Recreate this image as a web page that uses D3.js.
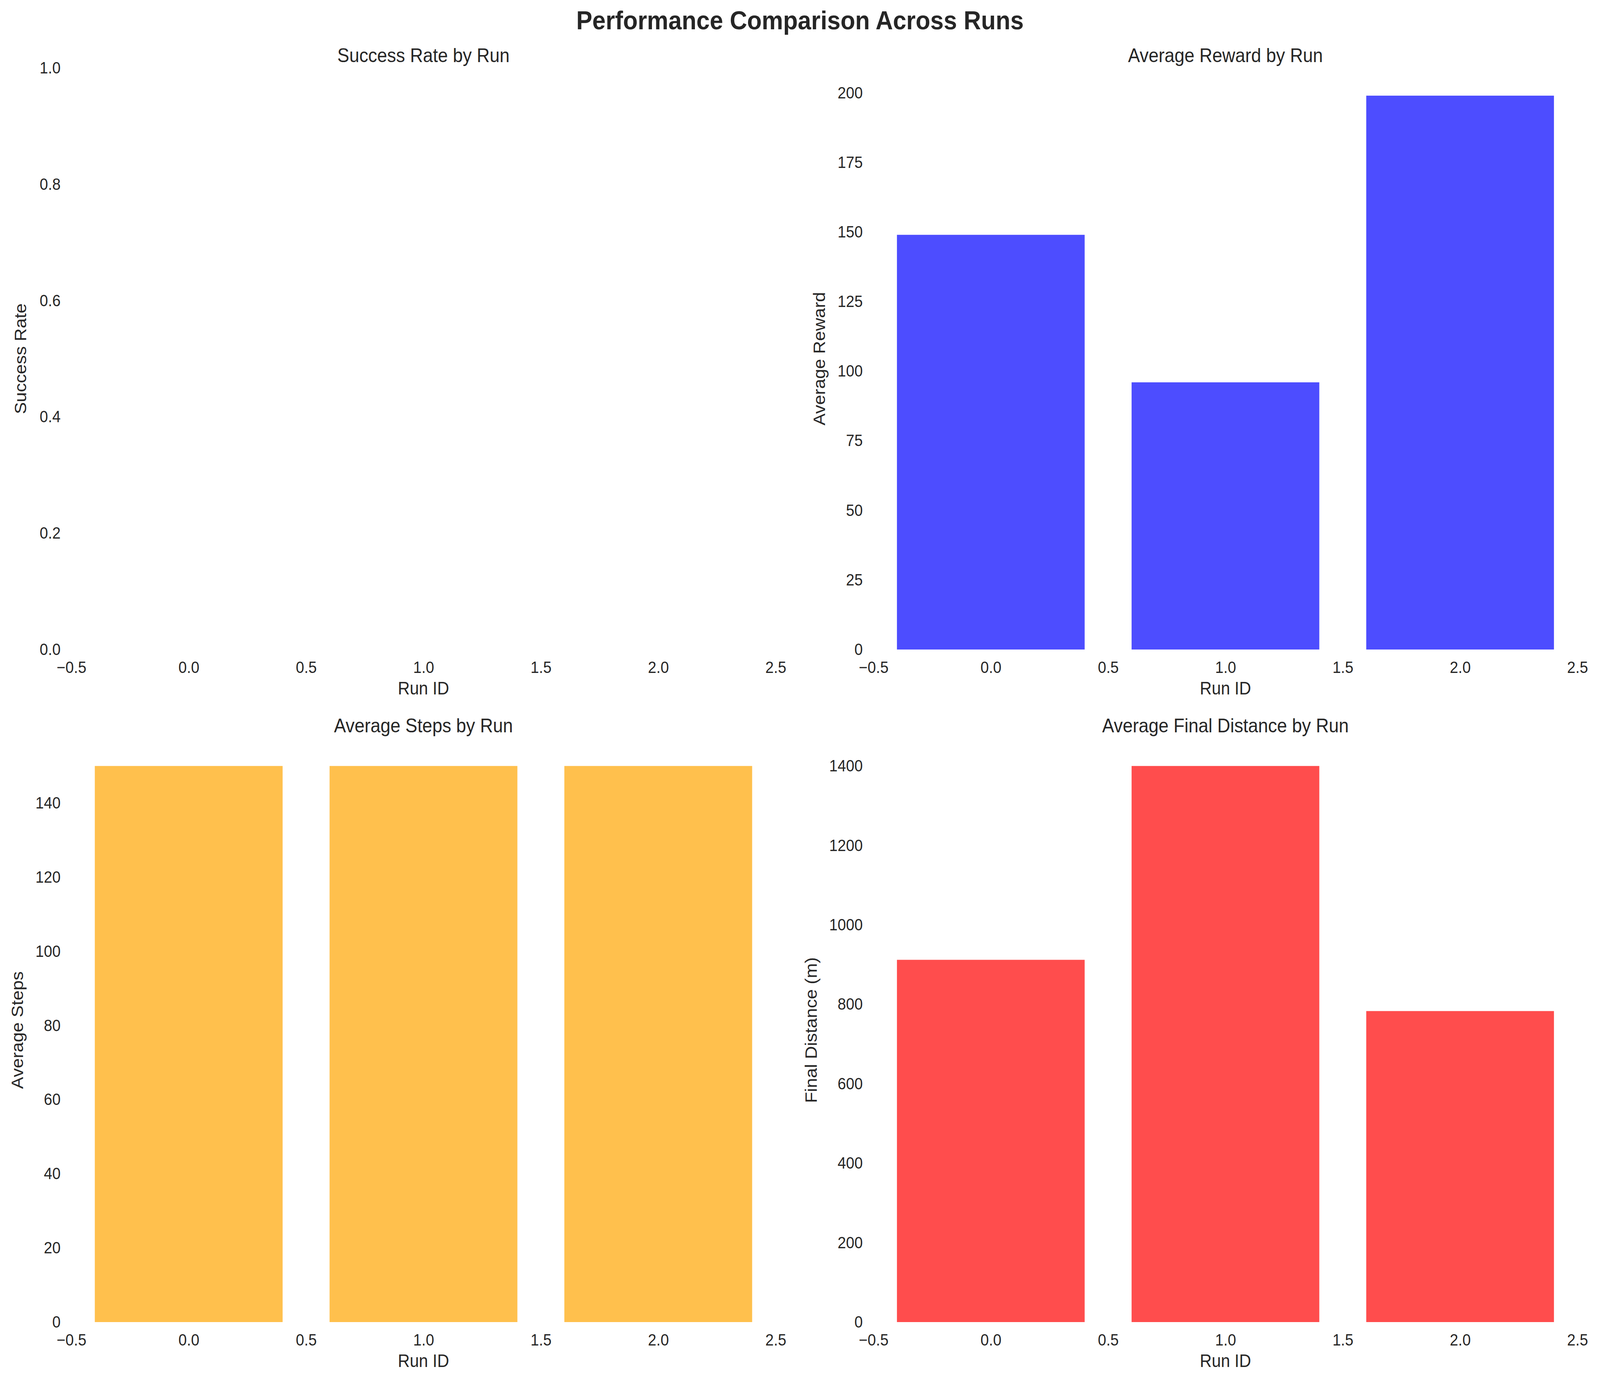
<!DOCTYPE html>
<html><head><meta charset="utf-8">
<script src="https://cdn.jsdelivr.net/npm/d3@7"></script>
<style>html,body{margin:0;padding:0;background:#fff;overflow:hidden;width:100%;height:100%}svg{display:block;width:100vw;height:100vh}text{font-family:"Liberation Sans",Arial,sans-serif;fill:#262626}</style>
</head><body><svg id="c" viewBox="0 0 4464 3541" preserveAspectRatio="none"></svg>
<script>
var runs = [0, 1, 2];
var successRate = [0, 0, 0];
var avgReward = [149, 96, 199];
var avgSteps = [150, 150, 150];
var finalDist = [912, 1400, 783];
var xTicks = [-0.5, 0, 0.5, 1, 1.5, 2, 2.5];

var svg = d3.select("#c");
svg.append("text").attr("x", 2232).attr("y", 75).attr("text-anchor", "middle")
    .attr("font-size", 67).attr("font-weight", "bold").text("Performance Comparison Across Runs");

var panels = [
    {vals: successRate, title: "Success Rate by Run", ylab: "Success Rate", color: "#4d4dff", x0: 199, x1: 2164, y0: 174, y1: 1663, ymax: 1, ticks: d3.range(0, 1.01, 0.2), fmt: d3.format(".1f"), ylx: 57},
    {vals: avgReward, title: "Average Reward by Run", ylab: "Average Reward", color: "#4d4dff", x0: 2437, x1: 4401, y0: 174, y1: 1663, ymax: 199 * 1.05, ticks: d3.range(0, 201, 25), fmt: d3.format("d"), ylx: 2286},
    {vals: avgSteps, title: "Average Steps by Run", ylab: "Average Steps", color: "#ffc04d", x0: 199, x1: 2164, y0: 1890, y1: 3385, ymax: 150 * 1.05, ticks: d3.range(0, 141, 20), fmt: d3.format("d"), ylx: 48},
    {vals: finalDist, title: "Average Final Distance by Run", ylab: "Final Distance (m)", color: "#ff4d4d", x0: 2437, x1: 4401, y0: 1890, y1: 3385, ymax: 1400 * 1.05, ticks: d3.range(0, 1401, 200), fmt: d3.format("d"), ylx: 2263}
];

panels.forEach(function (p) {
    var x = d3.scaleLinear().domain([-0.5, 2.5]).range([p.x0, p.x1]);
    var y = d3.scaleLinear().domain([0, p.ymax]).range([p.y1, p.y0]);
    var g = svg.append("g");
    g.selectAll("rect").data(runs).enter().append("rect")
        .attr("x", function (d) { return x(d - 0.4); })
        .attr("width", function (d) { return x(d + 0.4) - x(d - 0.4); })
        .attr("y", function (d, i) { return y(p.vals[i]); })
        .attr("height", function (d, i) { return p.y1 - y(p.vals[i]); })
        .attr("fill", p.color);
    var ax = g.append("g").attr("transform", "translate(0," + p.y1 + ")")
        .call(d3.axisBottom(x).tickValues(xTicks).tickFormat(function (d) { return d3.format(".1f")(d).replace("-", "\u2212"); }).tickSize(0).tickPadding(30));
    var ay = g.append("g").attr("transform", "translate(" + p.x0 + ",0)")
        .call(d3.axisLeft(y).tickValues(p.ticks).tickFormat(p.fmt).tickSize(0).tickPadding(30));
    [ax, ay].forEach(function (a) {
        a.select(".domain").remove();
        a.selectAll("text").attr("font-size", 42).attr("font-family", "Liberation Sans, Arial, sans-serif").attr("fill", "#262626");
    });
    g.append("text").attr("x", (p.x0 + p.x1) / 2).attr("y", p.y0 - 15).attr("text-anchor", "middle")
        .attr("font-size", 50).text(p.title);
    g.append("text").attr("x", (p.x0 + p.x1) / 2).attr("y", p.y1 + 115).attr("text-anchor", "middle")
        .attr("font-size", 46).text("Run ID");
    g.append("text").attr("transform", "translate(" + (p.ylx + 16) + "," + ((p.y0 + p.y1) / 2) + ") rotate(-90)")
        .attr("text-anchor", "middle").attr("font-size", 46).text(p.ylab);
});
</script></body></html>
